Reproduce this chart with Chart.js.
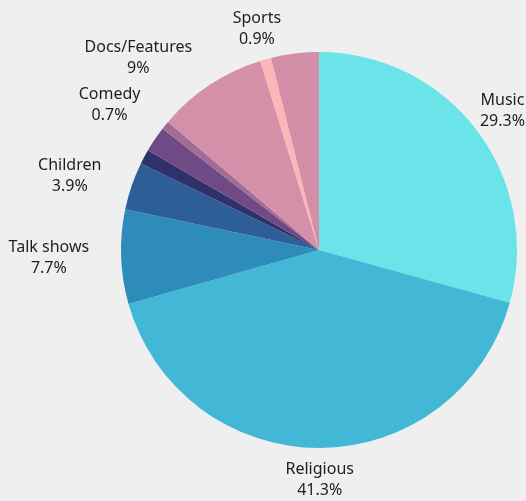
<!DOCTYPE html>
<html>
<head>
<meta charset="utf-8">
<script src="https://cdn.jsdelivr.net/npm/chart.js@4"></script>
<style>
  html, body { margin: 0; padding: 0; background: #efefef; }
  #wrap { width: 526px; height: 501px; }
</style>
</head>
<body>
<div id="wrap"><canvas id="pie"></canvas></div>
<script>
// Slices in drawing order, clockwise from 12 o'clock
const categories = ['Music', 'Religious', 'Talk shows', 'Children', 'Other A', 'Other B', 'Comedy', 'Docs/Features', 'Sports', 'Other C'];
const shares = [29.3, 41.3, 7.7, 3.9, 1.2, 2.1, 0.7, 9, 0.9, 3.9];
const shareLabels = ['29.3%', '41.3%', '7.7%', '3.9%', '', '', '0.7%', '9%', '0.9%', ''];
const sliceColors = ['#6ae4e8', '#42b7d6', '#2e8cba', '#2e5e97', '#2e316a', '#6f4a85', '#a36c94', '#d490a8', '#fcb6ba', '#d48fa8'];

// Draws two-line labels outside the pie; unlabeled slices are skipped
const outsideLabels = {
    id: 'outsideLabels',
    afterDatasetsDraw: (chart) => {
        const ctx = chart.ctx;
        const meta = chart.getDatasetMeta(0);
        ctx.save();
        ctx.font = '16px "Noto Sans", sans-serif';
        ctx.fillStyle = '#1e1e1e';
        ctx.textAlign = 'center';
        ctx.textBaseline = 'middle';
        const lineH = 21;

        meta.data.forEach((arc, i) => {
            if (!shareLabels[i]) return;
            const mid = (arc.startAngle + arc.endAngle) / 2;
            const r = arc.outerRadius + 32;
            const ax = arc.x + Math.cos(mid) * r;
            const ay = arc.y + Math.sin(mid) * r;
            const lines = [categories[i], shareLabels[i]];
            const w = Math.max(...lines.map(l => ctx.measureText(l).width));

            // push sideways labels outward by their half width
            const c = Math.cos(mid);
            const push = Math.min(1, Math.max(0, (Math.abs(c) - 0.3) / 0.2));
            let cx = ax + Math.sign(c) * push * w / 2;
            cx = Math.min(cx, chart.width - w / 2 - 1);
            cx = Math.max(cx, w / 2 + 2);

            ctx.fillText(lines[0], cx, ay - lineH / 2);
            ctx.fillText(lines[1], cx, ay + lineH / 2);
        });
        ctx.restore();
    }
};

new Chart(document.getElementById('pie'), {
    type: 'pie',
    data: {
        labels: categories,
        datasets: [{
            data: shares,
            backgroundColor: sliceColors,
            borderWidth: 0
        }]
    },
    options: {
        responsive: true,
        maintainAspectRatio: false,
        animation: false,
        layout: {
            padding: { left: 121, right: 9, top: 52, bottom: 53 }
        },
        plugins: {
            legend: { display: false },
            tooltip: { enabled: false }
        }
    },
    plugins: [outsideLabels]
});
</script>
</body>
</html>
